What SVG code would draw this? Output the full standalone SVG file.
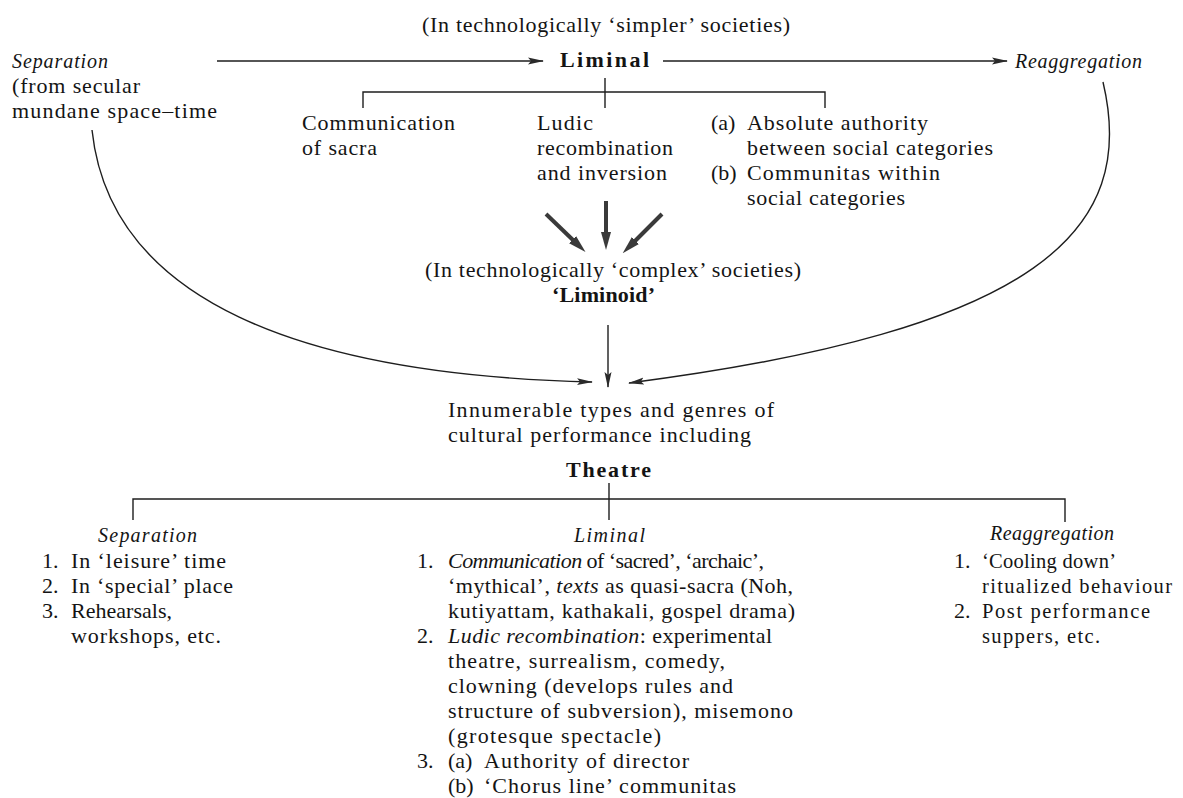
<svg xmlns="http://www.w3.org/2000/svg" width="1183" height="798" viewBox="0 0 1183 798">
<defs>
<style>
text{font-family:"Liberation Serif","Times New Roman",serif;font-size:22px;fill:#141414}
.i{font-style:italic}
.h{font-style:italic;font-size:20px}
.b{font-weight:bold;font-size:22px}
.s{font-size:20.5px}
.ln{stroke:#1e1e1e;stroke-width:1.4;fill:none}
.thick{stroke:#3a3a3a;stroke-width:4;fill:none}
</style>
<marker id="ah" markerUnits="userSpaceOnUse" markerWidth="16" markerHeight="8" viewBox="0 0 16 8" refX="15" refY="4" orient="auto">
<path d="M0,0.5 L16,4 L0,7.5 L3,4 z" fill="#2a2a2a"/>
</marker>
<marker id="ahb" markerUnits="userSpaceOnUse" markerWidth="18" markerHeight="10" viewBox="0 0 18 10" refX="2" refY="5" orient="auto">
<path d="M0,0 L18,5 L0,10 z" fill="#3a3a3a"/>
</marker>
</defs>
<rect width="1183" height="798" fill="#ffffff"/>

<g id="connectors">
<line class="ln" x1="217" y1="61" x2="543" y2="61" marker-end="url(#ah)"/>
<line class="ln" x1="663" y1="61" x2="1007" y2="61" marker-end="url(#ah)"/>
<path class="ln" d="M363,108 V92 H825 V108 M605,78 V108"/>
<line class="thick" x1="546" y1="214" x2="574" y2="241" marker-end="url(#ahb)"/>
<line class="thick" x1="606" y1="201" x2="606" y2="234" marker-end="url(#ahb)"/>
<line class="thick" x1="662" y1="214" x2="634" y2="242" marker-end="url(#ahb)"/>
<path class="ln" d="M92,130 C110,300 300,375 592,382" marker-end="url(#ah)"/>
<path class="ln" d="M1103,82 C1138,230 1040,330 629,383" marker-end="url(#ah)"/>
<line class="ln" x1="608" y1="325" x2="608" y2="387" marker-end="url(#ah)"/>
<path class="ln" d="M133,520 V499 H1065 V522 M609,483 V520"/>
</g>

<g id="title">
<text x="422" y="32" textLength="368" lengthAdjust="spacing">(In technologically ‘simpler’ societies)</text>
</g>

<g id="separation-top">
<text class="h" x="12" y="68" textLength="96" lengthAdjust="spacing">Separation</text>
<text x="12" y="93" textLength="128" lengthAdjust="spacing">(from secular</text>
<text x="12" y="118" textLength="205" lengthAdjust="spacing">mundane space–time</text>
</g>

<g id="liminal-top">
<text class="b" x="560" y="67" textLength="89" lengthAdjust="spacing">Liminal</text>
</g>

<g id="reaggregation-top">
<text class="h" x="1015" y="68" textLength="127" lengthAdjust="spacing">Reaggregation</text>
</g>

<g id="sacra">
<text x="302" y="130" textLength="153" lengthAdjust="spacing">Communication</text>
<text x="302" y="155" textLength="75" lengthAdjust="spacing">of sacra</text>
</g>

<g id="ludic">
<text x="537" y="130" textLength="56" lengthAdjust="spacing">Ludic</text>
<text x="537" y="155" textLength="136" lengthAdjust="spacing">recombination</text>
<text x="537" y="180" textLength="130" lengthAdjust="spacing">and inversion</text>
</g>

<g id="authority">
<text x="711" y="130">(a)</text>
<text x="747" y="130" textLength="181" lengthAdjust="spacing">Absolute authority</text>
<text x="747" y="155" textLength="246" lengthAdjust="spacing">between social categories</text>
<text x="711" y="180">(b)</text>
<text x="747" y="180" textLength="193" lengthAdjust="spacing">Communitas within</text>
<text x="747" y="205" textLength="158" lengthAdjust="spacing">social categories</text>
</g>

<g id="liminoid">
<text x="425" y="277" textLength="376" lengthAdjust="spacing">(In technologically ‘complex’ societies)</text>
<text class="b" x="552" y="302" textLength="103" lengthAdjust="spacing">‘Liminoid’</text>
</g>

<g id="performance">
<text x="448" y="417" textLength="326" lengthAdjust="spacing">Innumerable types and genres of</text>
<text x="448" y="442" textLength="303" lengthAdjust="spacing">cultural performance including</text>
<text class="b" x="566" y="477" textLength="85" lengthAdjust="spacing">Theatre</text>
</g>

<g id="separation-bottom">
<text class="h" x="98" y="542" textLength="99" lengthAdjust="spacing">Separation</text>
<text x="42" y="568">1.</text>
<text x="71" y="568" textLength="155" lengthAdjust="spacing">In ‘leisure’ time</text>
<text x="42" y="593">2.</text>
<text x="71" y="593" textLength="162" lengthAdjust="spacing">In ‘special’ place</text>
<text x="42" y="618">3.</text>
<text x="71" y="618" textLength="101" lengthAdjust="spacing">Rehearsals,</text>
<text x="71" y="643" textLength="150" lengthAdjust="spacing">workshops, etc.</text>
</g>

<g id="liminal-bottom">
<text class="h" x="574" y="542" textLength="71" lengthAdjust="spacing">Liminal</text>
<text x="417" y="568">1.</text>
<text x="448" y="568" textLength="316" lengthAdjust="spacing"><tspan class="i">Communication</tspan> of ‘sacred’, ‘archaic’,</text>
<text x="448" y="593" textLength="345" lengthAdjust="spacing">‘mythical’, <tspan class="i">texts</tspan> as quasi-sacra (Noh,</text>
<text x="448" y="618" textLength="347" lengthAdjust="spacing">kutiyattam, kathakali, gospel drama)</text>
<text x="417" y="643">2.</text>
<text x="448" y="643" textLength="324" lengthAdjust="spacing"><tspan class="i">Ludic recombination</tspan>: experimental</text>
<text x="448" y="668" textLength="277" lengthAdjust="spacing">theatre, surrealism, comedy,</text>
<text x="448" y="693" textLength="285" lengthAdjust="spacing">clowning (develops rules and</text>
<text x="448" y="718" textLength="345" lengthAdjust="spacing">structure of subversion), misemono</text>
<text x="448" y="743" textLength="213" lengthAdjust="spacing">(grotesque spectacle)</text>
<text x="417" y="768">3.</text>
<text x="448" y="768">(a)</text>
<text x="484" y="768" textLength="205" lengthAdjust="spacing">Authority of director</text>
<text x="448" y="793">(b)</text>
<text x="484" y="793" textLength="252" lengthAdjust="spacing">‘Chorus line’ communitas</text>
</g>

<g id="reaggregation-bottom">
<text class="h" x="990" y="540" textLength="124" lengthAdjust="spacing">Reaggregation</text>
<text x="954" y="568">1.</text>
<text class="s" x="982" y="568" textLength="134" lengthAdjust="spacing">‘Cooling down’</text>
<text class="s" x="982" y="593" textLength="190" lengthAdjust="spacing">ritualized behaviour</text>
<text x="954" y="618">2.</text>
<text class="s" x="982" y="618" textLength="168" lengthAdjust="spacing">Post performance</text>
<text class="s" x="982" y="643" textLength="118" lengthAdjust="spacing">suppers, etc.</text>
</g>
</svg>
